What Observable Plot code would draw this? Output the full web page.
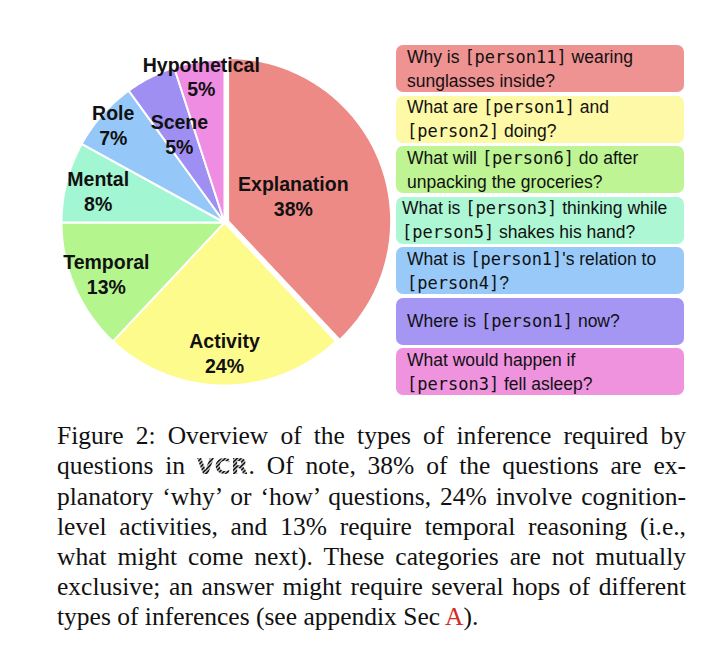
<!DOCTYPE html>
<html>
<head>
<meta charset="utf-8">
<script src="https://cdn.jsdelivr.net/npm/d3@7"></script>
<script src="https://cdn.jsdelivr.net/npm/@observablehq/plot@0.6"></script>
<style>
  body { margin: 0; background: #fff; }
  #fig { position: relative; width: 716px; height: 662px; overflow: hidden; background: #fff; }
  #pie { position: absolute; left: 0; top: 0; }
  .q { position: absolute; left: 396px; width: 288px; height: 47px; border-radius: 7px; box-sizing: border-box;
       padding-left: 11px; display: flex; flex-direction: column; justify-content: center;
       font-family: "Liberation Sans", Arial, Helvetica, sans-serif; font-size: 17.5px; line-height: 24px; color: #111; }
  .q div { white-space: nowrap; }
  .mono { font-family: "DejaVu Sans Mono", "Liberation Mono", monospace; font-size: 17px; }
  #cap { position: absolute; left: 57px; top: 421px; width: 629px;
         font-family: "Liberation Serif", "Times New Roman", serif; font-size: 25.5px; line-height: 30px; color: #111; }
  #cap .l { text-align: justify; text-align-last: justify; }
  #cap .last { text-align: left; text-align-last: left; }
  .vcr { font-family: "DejaVu Sans", sans-serif; font-weight: 900; font-size: 22px; letter-spacing: 0.5px;
         background: repeating-linear-gradient(135deg, #222 0 1.4px, #aaa 1.4px 2.8px);
         -webkit-background-clip: text; background-clip: text; color: transparent; }
  .ref { color: #d42a2a; }
</style>
</head>
<body>
<div id="fig"></div>
<script>
// ---- data ----
const categories = ["Explanation", "Activity", "Temporal", "Mental", "Role", "Scene", "Hypothetical"];
const shares = [38, 24, 13, 8, 7, 5, 5];
const questions = [
  "Why is [person11] wearing\nsunglasses inside?",
  "What are [person1] and\n[person2] doing?",
  "What will [person6] do after\nunpacking the groceries?",
  "What is [person3] thinking while\n[person5] shakes his hand?",
  "What is [person1]'s relation to\n[person4]?",
  "Where is [person1] now?",
  "What would happen if\n[person3] fell asleep?"
];
const captionLines = [
  "Figure 2: Overview of the types of inference required by",
  "questions in {VCR}. Of note, 38% of the questions are ex-",
  "planatory \u2018why\u2019 or \u2018how\u2019 questions, 24% involve cognition-",
  "level activities, and 13% require temporal reasoning (i.e.,",
  "what might come next). These categories are not mutually",
  "exclusive; an answer might require several hops of different",
  "types of inferences (see appendix Sec {A})."
];

// ---- styles / layout ----
const pieColors = ["#EE8A85", "#FEFB8D", "#B5F58E", "#A3F6D2", "#95C8F8", "#A08FF2", "#EE8DE2"];
const boxColors = ["#EF9292", "#FDF9A6", "#BEF494", "#AEF7D4", "#98C9F9", "#A596F3", "#EF93DF"];
const labelRadius = {Explanation: 0.43, Activity: 0.8, Temporal: 0.79, Mental: 0.8, Role: 0.91, Scene: 0.61, Hypothetical: 0.91};
const explode = {Explanation: 0.024};

const table = categories.map((c, i) => ({cat: c, share: shares[i]}));
const arcs = d3.pie().sort(null).value(d => d.share)(table);

const slicePts = [];
const labels = [];
arcs.forEach(a => {
  const cat = a.data.cat;
  const mid = (a.startAngle + a.endAngle) / 2;
  const off = explode[cat] || 0;
  const ox = Math.sin(mid) * off, oy = Math.cos(mid) * off;
  slicePts.push({cat, x: ox, y: oy});
  const steps = Math.max(2, Math.ceil((a.endAngle - a.startAngle) / (Math.PI / 180)));
  for (let k = 0; k <= steps; k++) {
    const t = a.startAngle + (a.endAngle - a.startAngle) * k / steps;
    slicePts.push({cat, x: ox + Math.sin(t), y: oy + Math.cos(t)});
  }
  const lr = labelRadius[cat];
  labels.push({cat, x: ox + Math.sin(mid) * lr, y: oy + Math.cos(mid) * lr, text: cat + "\n" + a.data.share + "%"});
});

const svg = Plot.plot({
  width: 716,
  height: 400,
  x: {domain: [-1, 1], range: [61, 387], axis: null},
  y: {domain: [-1, 1], range: [385, 59], axis: null},
  color: {domain: categories, range: pieColors},
  marks: [
    Plot.line(slicePts, {x: "x", y: "y", z: "cat", fill: "cat", stroke: "white", strokeWidth: 2, curve: "linear-closed"}),
    Plot.text(labels, {x: "x", y: "y", text: "text", fontSize: 19.5, fontWeight: "bold", lineHeight: 1.28,
      fontFamily: "'Liberation Sans', Arial, Helvetica, sans-serif", fill: "#111"})
  ]
});
svg.id = "pie";
const fig = document.getElementById("fig");
fig.appendChild(svg);

// question boxes
const esc = s => s.replace(/&/g, "&amp;").replace(/</g, "&lt;");
questions.forEach((q, i) => {
  const box = document.createElement("div");
  box.className = "q";
  box.style.top = (45 + i * 50.5) + "px";
  box.style.background = boxColors[i];
  if (i === 3) box.style.paddingLeft = "6px";
  box.innerHTML = q.split("\n").map(line =>
    "<div>" + esc(line).replace(/\[(person\d+)\]/g, '<span class="mono">[$1]</span>') + "</div>").join("");
  fig.appendChild(box);
});

// caption
const cap = document.createElement("div");
cap.id = "cap";
cap.innerHTML = captionLines.map((line, i) => {
  const html = esc(line).replace("{VCR}", '<span class="vcr">VCR</span>').replace("{A}", '<span class="ref">A</span>');
  return '<div class="l' + (i === captionLines.length - 1 ? " last" : "") + '">' + html + "</div>";
}).join("");
fig.appendChild(cap);
</script>
</body>
</html>
